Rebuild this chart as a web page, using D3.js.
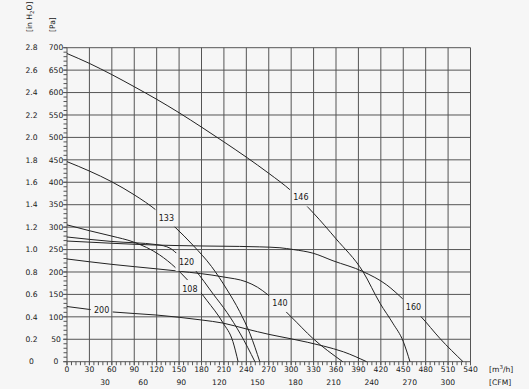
<!DOCTYPE html>
<html><head><meta charset="utf-8">
<script src="https://cdn.jsdelivr.net/npm/d3@7"></script>
<style>html,body{margin:0;padding:0;background:#f6f6f6;} svg{display:block;}</style>
</head><body>
<svg id="c" width="529" height="389"></svg>
<script>
// ---- data ----
const flowTicks = d3.range(0, 541, 30);            // m3/h
const flowMinor = d3.range(0, 541, 6);
const paTicks = d3.range(0, 701, 50);              // Pa
const paMinor = d3.range(0, 701, 10);
const inH2OLabels = ["0","0.2","0.4","0.6","0.8","1.0","1.2","1.4","1.6","1.8","2.0","2.2","2.4","2.6","2.8"];
const cfmTicks = [30, 60, 90, 120, 150, 180, 210, 240, 270, 300];
const curveNames = ["146", "133", "120", "108", "140", "160", "200"];
const c146 = [[0,687],[30,665],[60,640],[90,613],[120,585],[150,555],[180,523],[210,490],[240,456],[270,420],[300,381],[330,331],[360,274],[396,201],[419,130],[436,86],[450,45],[459,0]];
const c133 = [[0,446],[30,425],[60,401],[90,372],[120,337],[144.5,300],[169,259],[193.5,212],[213.6,162],[231,112],[245,62],[258,0]];
const c120 = [[0,278],[60,268],[120,261],[138,253],[149,238],[171,205],[196,150],[214,110],[232,62],[251.5,0]];
const c108 = [[0,305],[30,292],[60,280],[88.7,267],[124,238],[145,210],[162,181],[180,152],[187,137],[209,86],[222,45],[229,0]];
const c140 = [[0,229],[60,217],[120,207],[149,202],[209,189],[240,178],[255,166],[269,149],[300,100],[329,52],[369,0]];
const c160 = [[0,269],[60,264],[120,260],[180,258],[231,257],[258,256],[285,254],[303,250],[329,242],[356,225],[396,201],[428,171],[450,139],[474,100],[499,52],[530,0]];
const c200 = [[0,123],[60,111],[120,104],[150,99],[180,93],[209,86],[240,73],[270,61],[300,51],[343,35],[370,22],[401,0]];
const curveSeries = [c146, c133, c120, c108, c140, c160, c200];
// label anchor in data units (m3/h, Pa)
const labelAt = [[313,366],[133,321],[160,222],[164.5,162],[285,131],[463.7,121],[46.4,114.6]];

// ---- drawing ----
const svg = d3.select("#c");
const x = d3.scaleLinear().domain([0, 540]).range([67, 470.5]);
const y = d3.scaleLinear().domain([0, 700]).range([361.7, 47.7]);
const M3H_PER_CFM = 1.699;
const gridCol = "#555555", txtCol = "#161616", font = "DejaVu Sans, Verdana, sans-serif";

const g = svg.append("g");
// grid
g.selectAll("line.vg").data(flowTicks).join("line")
  .attr("x1", d => x(d)).attr("x2", d => x(d))
  .attr("y1", y(700)).attr("y2", y(0) + 3.5)
  .attr("stroke", gridCol).attr("stroke-width", 1);
g.selectAll("line.hg").data(paTicks).join("line")
  .attr("y1", d => y(d)).attr("y2", d => y(d))
  .attr("x1", x(0) - 3.8).attr("x2", x(540))
  .attr("stroke", gridCol).attr("stroke-width", 1);
// minor ticks
g.selectAll("line.mx").data(flowMinor).join("line")
  .attr("x1", d => x(d)).attr("x2", d => x(d))
  .attr("y1", y(0)).attr("y2", y(0) + 3.5)
  .attr("stroke", gridCol).attr("stroke-width", 1);
g.selectAll("line.my").data(paMinor).join("line")
  .attr("y1", d => y(d)).attr("y2", d => y(d))
  .attr("x1", x(0) - 3.5).attr("x2", x(0))
  .attr("stroke", gridCol).attr("stroke-width", 1);

// y labels
g.selectAll("text.pa").data(paTicks).join("text")
  .attr("x", 56).attr("y", d => y(d)).attr("dy", "0.35em")
  .attr("text-anchor", "middle").attr("font-family", font).attr("font-size", 7.6).attr("fill", txtCol)
  .text(d => d);
g.selectAll("text.in").data(paTicks).join("text")
  .attr("x", 31.5).attr("y", d => y(d)).attr("dy", "0.35em")
  .attr("text-anchor", "middle").attr("font-family", font).attr("font-size", 7.6).attr("fill", txtCol)
  .text((d, i) => inH2OLabels[i]);
// x labels
g.selectAll("text.fx").data(flowTicks).join("text")
  .attr("x", d => x(d)).attr("y", 369).attr("dy", "0.35em")
  .attr("text-anchor", "middle").attr("font-family", font).attr("font-size", 7.6).attr("fill", txtCol)
  .text(d => d);
g.selectAll("text.cfm").data(cfmTicks).join("text")
  .attr("x", d => x(d * M3H_PER_CFM)).attr("y", 382.5).attr("dy", "0.35em")
  .attr("text-anchor", "middle").attr("font-family", font).attr("font-size", 7.6).attr("fill", txtCol)
  .text(d => d);

// unit labels
const u1 = g.append("text").attr("x", 489).attr("y", 369).attr("dy", "0.35em")
  .attr("font-family", font).attr("font-size", 7.6).attr("fill", txtCol);
u1.append("tspan").text("[m");
u1.append("tspan").attr("font-size", 5.5).attr("dy", "-0.55em").text("3");
u1.append("tspan").attr("dy", "0.42em").text("/h]");
g.append("text").attr("x", 489).attr("y", 382.5).attr("dy", "0.35em")
  .attr("font-family", font).attr("font-size", 7.6).attr("fill", txtCol).text("[CFM]");

const t1 = g.append("text").attr("transform", "translate(32,32) rotate(-90)")
  .attr("font-family", font).attr("font-size", 7.6).attr("fill", txtCol);
t1.append("tspan").text("[in H");
t1.append("tspan").attr("font-size", 5.5).attr("dy", "0.3em").text("2");
t1.append("tspan").attr("dy", "-0.22em").text("O]");
g.append("text").attr("transform", "translate(55,32) rotate(-90)")
  .attr("font-family", font).attr("font-size", 7.6).attr("fill", txtCol).text("[Pa]");

// label masks for curves
const defs = svg.append("defs");
const mask = defs.append("mask").attr("id", "lblmask").attr("maskUnits", "userSpaceOnUse");
mask.append("rect").attr("x", 0).attr("y", 0).attr("width", 529).attr("height", 389).attr("fill", "white");
mask.selectAll("rect.h").data(labelAt).join("rect")
  .attr("x", d => x(d[0]) - 11).attr("y", d => y(d[1]) - 9)
  .attr("width", 22).attr("height", 18).attr("fill", "black");

const line = d3.line().x(d => x(d[0])).y(d => y(d[1])).curve(d3.curveMonotoneX);
const cg = svg.append("g").attr("mask", "url(#lblmask)");
cg.selectAll("path").data(curveSeries).join("path")
  .attr("d", line).attr("fill", "none").attr("stroke", "#222222").attr("stroke-width", 1);

svg.append("g").selectAll("text").data(labelAt).join("text")
  .attr("x", d => x(d[0])).attr("y", d => y(d[1])).attr("dy", "0.36em")
  .attr("text-anchor", "middle").attr("font-family", font).attr("font-size", 8).attr("fill", txtCol)
  .text((d, i) => curveNames[i]);
</script>
</body></html>
